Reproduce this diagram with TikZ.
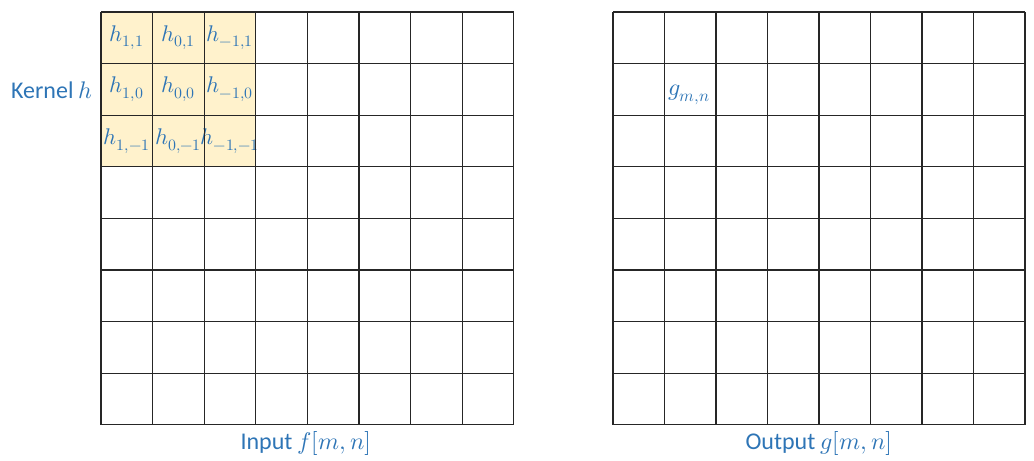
\documentclass[tikz,border=0pt]{standalone}
\usepackage{fontspec}
\usepackage{unicode-math}
\setmainfont{Carlito}
\setmathfont{Latin Modern Math}
\definecolor{txtblue}{RGB}{46,117,182}
\definecolor{kfill}{RGB}{255,242,204}
\begin{document}
\begin{tikzpicture}[x=0.75pt,y=-0.75pt,
  gridline/.style={draw=black!85,line width=0.85pt},
  cell/.style={minimum size=38.7pt,inner sep=0pt,outer sep=0pt,text=txtblue,font=\fontsize{17}{17}\selectfont},
  kcell/.style={cell},
  lbl/.style={text=txtblue,font=\fontsize{18}{20}\selectfont,inner sep=0pt}]
\useasboundingbox (0,0) rectangle (1034,460);
% kernel fill
\fill[kfill] (101,12) rectangle ({101+3*51.6},{12+3*51.6});
% grid cells
\foreach \c in {0,...,7}{
  \foreach \r in {0,...,7}{
    \node[cell] (L-\c-\r) at ({101+51.6*\c+25.8},{12+51.6*\r+25.8}) {};
    \node[cell] (R-\c-\r) at ({613+51.5*\c+25.75},{12+51.6*\r+25.8}) {};
  }
}
% kernel labels
\node[kcell] (K00) at (L-0-0) {$h_{1,1}$};
\node[kcell] (K10) at (L-1-0) {$h_{0,1}$};
\node[kcell] (K20) at (L-2-0) {$h_{-1,1}$};
\node[kcell] (K01) at (L-0-1) {$h_{1,0}$};
\node[kcell] (K11) at (L-1-1) {$h_{0,0}$};
\node[kcell] (K21) at (L-2-1) {$h_{-1,0}$};
\node[kcell] (K02) at (L-0-2) {$h_{1,-1}$};
\node[kcell] (K12) at (L-1-2) {$h_{0,-1}$};
\node[kcell] (K22) at (L-2-2) {$h_{-1,-1}$};
% grid lines
\foreach \i in {0,...,8}{
  \draw[gridline] ({101+51.6*\i},12) -- ({101+51.6*\i},424.8);
  \draw[gridline] (101,{12+51.6*\i}) -- (513.8,{12+51.6*\i});
  \draw[gridline] ({613+51.5*\i},12) -- ({613+51.5*\i},424.8);
  \draw[gridline] (613,{12+51.6*\i}) -- (1025,{12+51.6*\i});
}
% labels
\node[lbl,anchor=east] (kern) at (93,90) {Kernel $h$};
\node[lbl,font=\fontsize{18}{18}\selectfont] (gmn) at (689,95) {$g_{m,n}$};
\node[lbl] (inp) at (306,443) {Input $f[m,n]$};
\node[lbl] (outp) at (819,443) {Output $g[m,n]$};
\end{tikzpicture}
\end{document}
